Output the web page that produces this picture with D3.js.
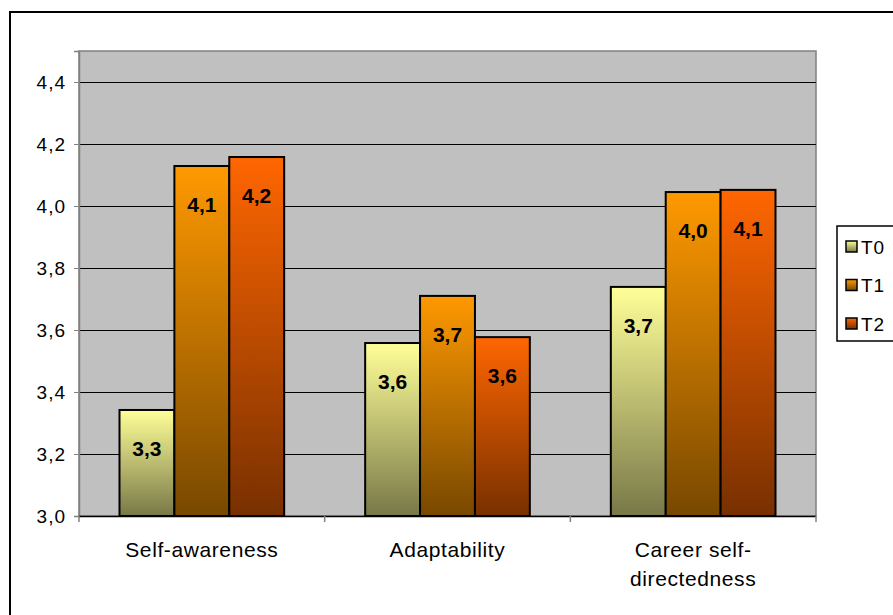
<!DOCTYPE html>
<html><head><meta charset="utf-8">
<script src="https://cdn.jsdelivr.net/npm/d3@7"></script>
<style>body{margin:0;background:#fff}svg{display:block;font-family:"Liberation Sans",Arial,sans-serif}</style>
</head><body><svg id="c" width="893" height="615"></svg>
<script>
const categories = [["Self-awareness"], ["Adaptability"], ["Career self-", "directedness"]];
const series = ["T0", "T1", "T2"];
const valuesT0 = [3.342, 3.558, 3.739];
const valuesT1 = [4.129, 3.710, 4.045];
const valuesT2 = [4.158, 3.577, 4.052];
const labelsT0 = ["3,3", "3,6", "3,7"];
const labelsT1 = ["4,1", "3,7", "4,0"];
const labelsT2 = ["4,2", "3,6", "4,1"];
const yTicks = [3.0, 3.2, 3.4, 3.6, 3.8, 4.0, 4.2, 4.4];
const colorsTop = ["#ffff99", "#ff9900", "#ff6600"];
const colorsBottom = ["#787848", "#784800", "#783000"];

const values = [valuesT0, valuesT1, valuesT2];
const labels = [labelsT0, labelsT1, labelsT2];

const svg = d3.select("#c");
const L = 79, R = 816, T = 51, B = 516;

// outer border
svg.append("rect").attr("x", 10).attr("y", 12).attr("width", 900).attr("height", 620)
  .attr("fill", "#fff").attr("stroke", "#000").attr("stroke-width", 2);

const defs = svg.append("defs");
series.forEach((s, i) => {
  const g = defs.append("linearGradient").attr("id", "g" + i).attr("x1", 0).attr("y1", 0).attr("x2", 0).attr("y2", 1);
  g.append("stop").attr("offset", "0%").attr("stop-color", colorsTop[i]);
  g.append("stop").attr("offset", "100%").attr("stop-color", colorsBottom[i]);
});

const x0 = d3.scaleBand().domain(d3.range(categories.length)).range([L, R]).paddingInner(0).paddingOuter(0);
const x1 = d3.scaleBand().domain(d3.range(series.length)).range([40.5, x0.bandwidth() - 40.5]);
const y = d3.scaleLinear().domain([3.0, 4.5]).range([B, T]);

// plot area
svg.append("rect").attr("x", L).attr("y", T).attr("width", R - L).attr("height", B - T)
  .attr("fill", "#c0c0c0").attr("stroke", "#808080").attr("stroke-width", 1.5);

// gridlines
svg.append("g").selectAll("line").data(yTicks.slice(1)).join("line")
  .attr("x1", L).attr("x2", R).attr("y1", d => Math.round(y(d)) + 0.5).attr("y2", d => Math.round(y(d)) + 0.5)
  .attr("stroke", "#000").attr("stroke-width", 1);

// y axis
const yAxis = svg.append("g").attr("transform", `translate(${L},0)`)
  .call(d3.axisLeft(y).tickValues(yTicks).tickSize(5).tickPadding(8).tickFormat(d => d3.format(".1f")(d).replace(".", ",")));
yAxis.select(".domain").attr("stroke", "#808080").attr("stroke-width", 1.5);
yAxis.selectAll(".tick line").attr("stroke", "#808080");
yAxis.selectAll("text").attr("font-size", 19).attr("letter-spacing", 1).attr("fill", "#000")
  .attr("font-family", "Liberation Sans, Arial, sans-serif");

// bars
const gCat = svg.append("g").selectAll("g").data(categories).join("g")
  .attr("transform", (d, i) => `translate(${x0(i)},0)`);
gCat.each(function(c, ci) {
  const g = d3.select(this);
  series.forEach((s, si) => {
    const v = values[si][ci];
    g.append("rect").attr("x", x1(si)).attr("y", y(v)).attr("width", x1.bandwidth()).attr("height", y(3.0) - y(v))
      .attr("fill", `url(#g${si})`).attr("stroke", "#000").attr("stroke-width", 2);
  });
  series.forEach((s, si) => {
    const v = values[si][ci];
    g.append("text").attr("x", x1(si) + x1.bandwidth() / 2).attr("y", y(v) + 46)
      .attr("text-anchor", "middle").attr("font-size", 21).attr("font-weight", "bold").attr("fill", "#000")
      .text(labels[si][ci]);
  });
});

// x axis line and ticks
svg.append("line").attr("x1", L).attr("x2", R).attr("y1", B + 0.5).attr("y2", B + 0.5).attr("stroke", "#000").attr("stroke-width", 1.5);
svg.append("g").selectAll("line").data(d3.range(categories.length + 1)).join("line")
  .attr("x1", d => d < categories.length ? x0(d) : R).attr("x2", d => d < categories.length ? x0(d) : R)
  .attr("y1", B).attr("y2", B + 6).attr("stroke", "#808080").attr("stroke-width", 1.5);

// category labels
svg.append("g").selectAll("text").data(categories).join("text")
  .attr("x", (d, i) => x0(i) + x0.bandwidth() / 2).attr("y", 557)
  .attr("text-anchor", "middle").attr("font-size", 21).attr("letter-spacing", 0.6).attr("fill", "#000")
  .each(function(d) {
    d.forEach((line, li) => d3.select(this).append("tspan").attr("x", d3.select(this).attr("x")).attr("dy", li ? 29 : 0).text(line));
  });

// legend
const lg = svg.append("g");
lg.append("rect").attr("x", 837).attr("y", 226).attr("width", 70).attr("height", 115)
  .attr("fill", "#fff").attr("stroke", "#000").attr("stroke-width", 1.5);
series.forEach((s, i) => {
  const cy = 246.5 + i * 38.5;
  lg.append("rect").attr("x", 846).attr("y", cy - 5.5).attr("width", 11).attr("height", 11)
    .attr("fill", `url(#g${i})`).attr("stroke", "#000").attr("stroke-width", 1.5);
  lg.append("text").attr("x", 861).attr("y", cy + 7).attr("font-size", 19).attr("letter-spacing", 1).attr("fill", "#000").text(s);
});
</script></body></html>
